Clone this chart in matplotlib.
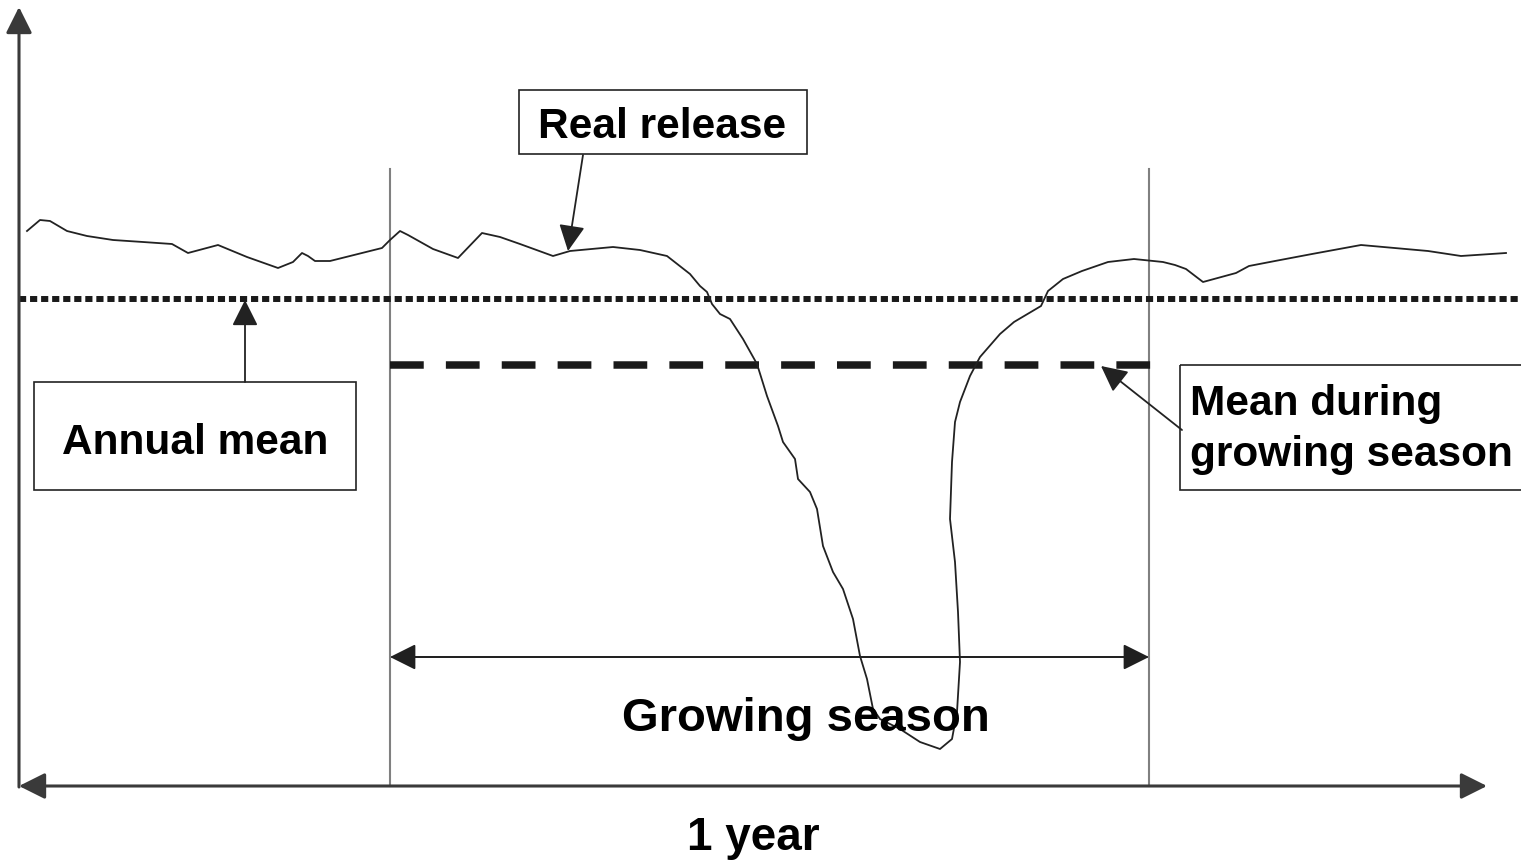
import matplotlib
matplotlib.use("Agg")
import matplotlib.pyplot as plt
from matplotlib.patches import Rectangle

# real release curve (x: position along the year, y: level, image units, y grows downward)
release_x = [27, 40, 50, 67, 87, 113, 143, 172, 188, 218, 247, 278, 293, 302, 308, 315, 330,
             382, 390, 400, 408, 433, 458, 482, 500, 520, 553, 570, 613, 640, 667, 690, 700,
             707, 712, 720, 730, 743, 757, 767, 778, 783, 795, 798, 810, 817, 823, 833, 843,
             853, 860, 867, 873, 880, 900, 920, 940, 952, 957, 960, 958, 955, 950, 952, 955,
             960, 970, 980, 1000, 1014, 1041, 1048, 1063, 1082, 1108, 1134, 1163, 1175, 1186,
             1203, 1236, 1249, 1275, 1312, 1361, 1428, 1461, 1506]
release_y = [232, 221, 222, 232, 237, 241, 243, 245, 254, 246, 258, 269, 263, 254, 257, 262, 262,
             249, 241, 232, 236, 250, 259, 234, 238, 245, 257, 252, 248, 251, 257, 275, 287,
             293, 305, 315, 320, 340, 365, 397, 427, 443, 460, 480, 493, 510, 547, 573, 590,
             620, 657, 680, 710, 720, 730, 743, 750, 740, 713, 663, 613, 563, 520, 463, 423,
             403, 377, 358, 335, 323, 307, 292, 280, 272, 263, 260, 263, 266, 270,
             283, 274, 267, 262, 255, 246, 252, 257, 254]

annual_mean = 300
season_mean = 366
year_start, year_end = 19, 1487
season_start, season_end = 390, 1149
baseline = 787

fig = plt.figure(figsize=(15.21, 8.62), dpi=100)
ax = fig.add_axes([0, 0, 1, 1])
ax.set_xlim(0, 1521)
ax.set_ylim(862, 0)
ax.axis("off")

font = ["Liberation Sans", "DejaVu Sans"]
head = dict(mutation_scale=40, shrinkA=0, shrinkB=0)

# axes with arrows
ax.annotate("", xy=(year_start, 8), xytext=(year_start, baseline + 1),
            arrowprops=dict(arrowstyle="-|>", lw=2.2, color="#3a3a3a", **head))
ax.annotate("", xy=(year_start, baseline), xytext=(year_end, baseline),
            arrowprops=dict(arrowstyle="<|-|>", lw=2.2, color="#3a3a3a", **head))

# growing season bounds
for xv in (season_start, season_end):
    ax.plot([xv, xv], [170, baseline], color="#808080", lw=1.5)
ax.annotate("", xy=(season_start, 658), xytext=(season_end, 658),
            arrowprops=dict(arrowstyle="<|-|>", lw=1.4, color="#808080", fc="#202020", ec="#202020",
                            **head))
ax.plot([season_start, season_end], [658, 658], color="#808080", lw=1.4)

# means
ax.plot([year_start, 1521], [annual_mean, annual_mean], color="#1a1a1a", lw=4.3,
        linestyle=(0, (1.2, 0.65)))
ax.plot([season_start, 1157], [season_mean, season_mean], color="#1a1a1a", lw=5.4,
        linestyle=(0, (4.5, 2.95)))

# curve
ax.plot(release_x, release_y, color="#222222", lw=1.3, solid_joinstyle="round")

# label boxes
ax.add_patch(Rectangle((519, 91), 288, 64, fill=False, ec="#222222", lw=1.2))
ax.text(662, 127, "Real release", ha="center", va="center", fontsize=30.5,
        fontweight="bold", family=font)
ax.annotate("", xy=(568, 252), xytext=(583, 156),
            arrowprops=dict(arrowstyle="-|>", lw=1.3, color="#222222", **head))

ax.add_patch(Rectangle((34, 383), 322, 108, fill=False, ec="#222222", lw=1.2))
ax.text(195, 443, "Annual mean", ha="center", va="center", fontsize=30.5,
        fontweight="bold", family=font)
ax.annotate("", xy=(245, annual_mean + 1), xytext=(245, 383),
            arrowprops=dict(arrowstyle="-|>", lw=1.3, color="#222222", **head))

ax.add_patch(Rectangle((1180, 366), 360, 125, fill=False, ec="#222222", lw=1.2))
ax.text(1190, 404, "Mean during", ha="left", va="center", fontsize=30.5,
        fontweight="bold", family=font)
ax.text(1190, 455, "growing season", ha="left", va="center", fontsize=30.5,
        fontweight="bold", family=font)
ax.annotate("", xy=(1101, season_mean + 1), xytext=(1182, 431),
            arrowprops=dict(arrowstyle="-|>", lw=1.3, color="#222222", **head))

ax.text(806, 719, "Growing season", ha="center", va="center", fontsize=34,
        fontweight="bold", family=font)
ax.text(753, 838, "1 year", ha="center", va="center", fontsize=33,
        fontweight="bold", family=font)

fig.savefig("out.png", dpi=100)
